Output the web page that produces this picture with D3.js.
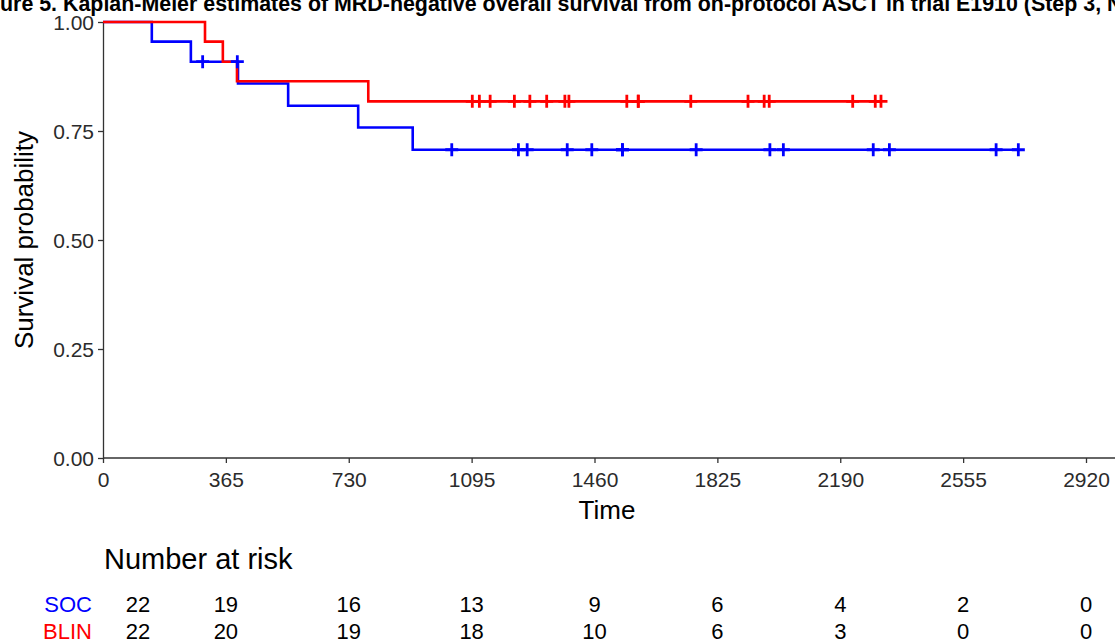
<!DOCTYPE html>
<html lang="en">
<head>
    <meta charset="UTF-8">
    <title>KM MRD-negative OS</title>
    <script src="https://cdn.jsdelivr.net/npm/d3@7"></script>
    <style>
        body { margin: 0; background: #fff; }
        svg { display: block; font-family: "Liberation Sans", Arial, sans-serif; }
    </style>
</head>
<body>
<div id="chart"></div>
<script>
    var W = 1115, H = 642;

    // step curves: [time, survival]
    var socSteps = [[0, 1.000], [145, 0.955], [261, 0.909], [401, 0.859], [550, 0.808], [758, 0.758], [920, 0.707]];
    var socEnd = 2719;
    var socCensor = [296, 399, 1036, 1234, 1260, 1379, 1452, 1543, 1543, 1762, 1981, 2021, 2288, 2336, 2653, 2719];

    var blinSteps = [[0, 1.000], [303, 0.955], [356, 0.909], [398, 0.864], [788, 0.818]];
    var blinEnd = 2311;
    var blinCensor = [1097, 1118, 1150, 1222, 1268, 1318, 1372, 1384, 1556, 1590, 1590, 1746, 1916, 1964, 1979, 2227, 2294, 2311];

    // number at risk table
    var riskTimes = [0, 365, 730, 1095, 1460, 1825, 2190, 2555, 2920];
    var socRisk = [22, 19, 16, 13, 9, 6, 4, 2, 0];
    var blinRisk = [22, 20, 19, 18, 10, 6, 3, 0, 0];

    var yTicks = [0, 0.25, 0.5, 0.75, 1];

    var x = d3.scaleLinear().domain([0, 2920]).range([103, 1086]);
    var y = d3.scaleLinear().domain([0, 1]).range([458, 22]);

    var svg = d3.select("#chart").append("svg")
        .attr("width", W)
        .attr("height", H);

    // title, clipped at the left like the source image
    var titleText = "Figure 5. Kaplan-Meier estimates of MRD-negative overall survival from on-protocol ASCT in trial E1910 (Step 3, N=44)";
    var tmp = svg.append("text").attr("font-size", "21.4px").attr("font-weight", "bold").text("Fig");
    var off = tmp.node().getComputedTextLength();
    tmp.remove();
    svg.append("text")
        .attr("x", -off)
        .attr("y", 11)
        .attr("font-size", "21.4px")
        .attr("font-weight", "bold")
        .attr("fill", "#000")
        .text(titleText);

    // axes
    var xAxis = svg.append("g")
        .attr("transform", "translate(0,458)")
        .call(d3.axisBottom(x).tickValues(riskTimes).tickFormat(d3.format("d")).tickSize(5).tickSizeOuter(0).tickPadding(4));
    xAxis.select(".domain").attr("d", "M103,0H1115");
    var yAxis = svg.append("g")
        .attr("transform", "translate(103,0)")
        .call(d3.axisLeft(y).tickValues(yTicks).tickFormat(d3.format(".2f")).tickSize(5).tickSizeOuter(0).tickPadding(4));

    svg.selectAll(".domain").attr("stroke", "#333").attr("stroke-width", 1.3);
    svg.selectAll(".tick line").attr("stroke", "#333").attr("stroke-width", 1.3);
    svg.selectAll(".tick text")
        .attr("font-size", "21px")
        .attr("font-family", "Liberation Sans, Arial, sans-serif")
        .attr("fill", "#2b2b2b");
    xAxis.selectAll(".tick text").attr("dy", "0.95em");
    yAxis.selectAll(".tick text").attr("dy", "0.36em");

    svg.append("text")
        .attr("x", 607)
        .attr("y", 519)
        .attr("text-anchor", "middle")
        .attr("font-size", "26px")
        .text("Time");

    svg.append("text")
        .attr("transform", "translate(33,240) rotate(-90)")
        .attr("text-anchor", "middle")
        .attr("font-size", "26px")
        .text("Survival probability");

    // KM curves
    function stepPath(steps, end) {
        var pts = steps.map(d => [x(d[0]), y(d[1])]);
        pts.push([x(end), y(steps[steps.length - 1][1])]);
        return d3.line().curve(d3.curveStepAfter)(pts);
    }
    function survAt(steps, t) {
        var i = d3.bisectRight(steps.map(d => d[0]), t) - 1;
        return steps[Math.max(i, 0)][1];
    }

    var groups = [
        { name: "SOC", color: "#0000ff", steps: socSteps, end: socEnd, censor: socCensor, risk: socRisk },
        { name: "BLIN", color: "#ff0000", steps: blinSteps, end: blinEnd, censor: blinCensor, risk: blinRisk }
    ];

    groups.forEach(function(g) {
        svg.append("path")
            .attr("d", stepPath(g.steps, g.end))
            .attr("fill", "none")
            .attr("stroke", g.color)
            .attr("stroke-width", 2.6);
    });

    var cs = 6.5;
    groups.forEach(function(g) {
        svg.append("g").selectAll("path")
            .data(g.censor)
            .enter()
            .append("path")
            .attr("d", function(t) {
                var cx = x(t), cy = y(survAt(g.steps, t));
                return "M" + (cx - cs) + "," + cy + "H" + (cx + cs) + "M" + cx + "," + (cy - cs) + "V" + (cy + cs);
            })
            .attr("stroke", g.color)
            .attr("stroke-width", 2.8);
    });

    // number at risk
    svg.append("text")
        .attr("x", 104)
        .attr("y", 569)
        .attr("font-size", "29px")
        .text("Number at risk");

    groups.forEach(function(g, gi) {
        var rowY = 612 + gi * 27;
        svg.append("text")
            .attr("x", 92)
            .attr("y", rowY)
            .attr("text-anchor", "end")
            .attr("font-size", "22px")
            .attr("fill", g.color)
            .text(g.name);
        svg.append("g").selectAll("text")
            .data(riskTimes)
            .enter()
            .append("text")
            .attr("x", (d, i) => i === 0 ? x(d) + 35 : x(d))
            .attr("y", rowY)
            .attr("text-anchor", "middle")
            .attr("font-size", "22px")
            .attr("fill", "#000")
            .text((d, i) => g.risk[i]);
    });
</script>
</body>
</html>
